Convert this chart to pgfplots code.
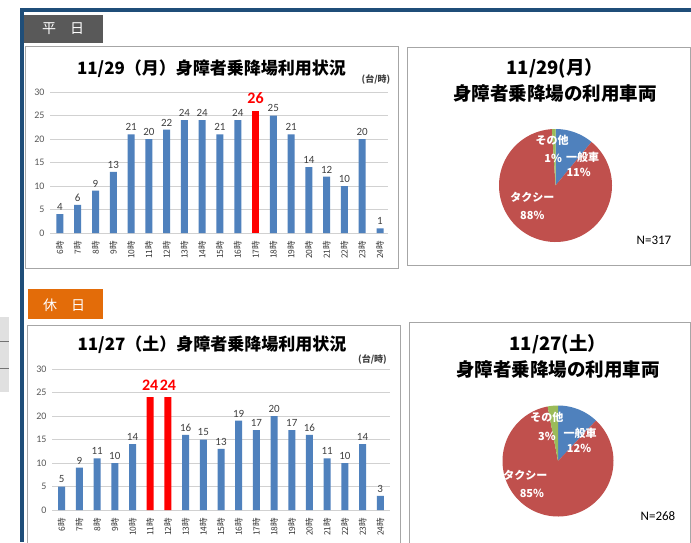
\documentclass[border=0pt]{standalone}
\usepackage{pgfplots}
\pgfplotsset{compat=1.18}
\usepackage{pgfplotstable}
\usepackage{fontspec}
\setmainfont{Carlito}
\newfontfamily\jp{Noto Sans CJK JP}
\definecolor{barblue}{HTML}{4F81BD}
\definecolor{piered}{HTML}{C0504D}
\definecolor{piegreen}{HTML}{9BBB59}
\definecolor{frameblue}{HTML}{1F4E79}
\definecolor{tabgray}{HTML}{595959}
\definecolor{taborange}{HTML}{E36C09}
\definecolor{boxgray}{HTML}{A6A6A6}
\definecolor{txtgray}{HTML}{404040}

% weekday 11/29
\pgfplotstableread{
x y
0 4
1 6
2 9
3 13
4 21
5 20
6 22
7 24
8 24
9 21
10 24
12 25
13 21
14 14
15 12
16 10
17 20
18 1
}\wdblue
\pgfplotstableread{
x y
11 26
}\wdred
% holiday 11/27
\pgfplotstableread{
x y
0 5
1 9
2 11
3 10
4 14
7 16
8 15
9 13
10 19
11 17
12 20
13 17
14 16
15 11
16 10
17 14
18 3
}\heblue
\pgfplotstableread{
x y
5 24
6 24
}\hered

\pgfplotsset{
  hourbars/.style={
    anchor=south west, scale only axis, width=338pt, height=141pt,
    ymin=0, ymax=30, ytick={0,5,...,30},
    xmin=-0.56, xmax=18.45, xtick={0,...,18},
    xticklabels={6時,7時,8時,9時,10時,11時,12時,13時,14時,15時,16時,17時,18時,19時,20時,21時,22時,23時,24時},
    axis line style={draw=none}, tick style={draw=none},
    ymajorgrids, grid style={draw=black!18, line width=0.8pt},
    ybar, bar width=7pt, bar shift=0pt,
    /pgf/number format/assume math mode=true,
    yticklabel style={font=\fontsize{10}{10}\selectfont, text=black!65, xshift=-2pt},
    xticklabel style={rotate=90, anchor=east, font=\jp\fontsize{8.5}{8.5}\selectfont, text=black!78},
    nodes near coords,
    nodes near coords style={font=\fontsize{11}{11}\selectfont, text=txtgray},
    clip=false,
  },
  redbar/.style={fill=red, draw=none,
    every node near coord/.append style={font=\bfseries\fontsize{16}{16}\selectfont, text=red, inner sep=1pt, yshift=6pt}},
  pieaxis/.style={anchor=center, xmin=-1, xmax=1, ymin=-1, ymax=1, hide axis, clip=false},
}
\tikzset{pielabel/.style={font=\jp\bfseries\fontsize{11}{11}\selectfont, text=white, inner sep=0pt}}

\begin{document}
\begin{tikzpicture}
\path[use as bounding box] (0pt,0pt) rectangle (691pt,-542pt);
\fill[white] (0pt,0pt) rectangle (691pt,-542pt);

% left side gray element
\fill[black!12] (0pt,-317pt) rectangle (9pt,-392pt);
\draw[black!55, line width=1pt] (0pt,-341pt) -- (9pt,-341pt);
\draw[black!55, line width=1pt] (0pt,-368pt) -- (9pt,-368pt);

% blue frame
\fill[frameblue] (20pt,-8pt) rectangle (691pt,-12pt);
\fill[frameblue] (20pt,-8pt) rectangle (24pt,-542pt);

% tabs
\fill[tabgray] (24pt,-15pt) rectangle (103pt,-43pt);
\node[text=white, font=\jp\fontsize{14}{14}\selectfont] at (63pt,-29pt) {平\hspace{1em}日};
\fill[taborange] (28pt,-289pt) rectangle (103pt,-319pt);
\node[text=white, font=\jp\fontsize{14}{14}\selectfont] at (64pt,-305pt) {休\hspace{1em}日};

% boxes
\draw[boxgray, line width=1pt] (25pt,-46pt) rectangle (398pt,-268pt);
\draw[boxgray, line width=1pt] (407pt,-47pt) rectangle (690pt,-265pt);
\draw[boxgray, line width=1pt] (27pt,-325pt) rectangle (400pt,-546pt);
\draw[boxgray, line width=1pt] (409pt,-322pt) rectangle (690pt,-546pt);

% ===== weekday bar chart =====
\node[font=\jp\bfseries\fontsize{17}{17}\selectfont] at (211.5pt,-69pt) {11/29（月）身障者乗降場利用状況};
\node[font=\jp\bfseries\fontsize{9}{9}\selectfont, text=txtgray] at (376pt,-80pt) {(台/時)};
\begin{axis}[hourbars, at={(50pt,-233pt)}]
\addplot[fill=barblue, draw=none] table[x=x, y=y] {\wdblue};
\addplot[redbar] table[x=x, y=y] {\wdred};
\end{axis}

% ===== holiday bar chart =====
\node[font=\jp\bfseries\fontsize{17}{17}\selectfont] at (212pt,-345pt) {11/27（土）身障者乗降場利用状況};
\node[font=\jp\bfseries\fontsize{9}{9}\selectfont, text=txtgray] at (372.5pt,-360pt) {(台/時)};
\begin{axis}[hourbars, at={(52pt,-510pt)}, xmin=-0.55, xmax=18.55]
\addplot[fill=barblue, draw=none] table[x=x, y=y] {\heblue};
\addplot[redbar] table[x=x, y=y] {\hered};
\end{axis}

% ===== weekday pie: 一般車 11%, タクシー 88%, その他 1% (clockwise from top) =====
\node[align=center, font=\jp\bfseries\fontsize{18.5}{26}\selectfont] at (555pt,-80pt) {11/29(月）\\身障者乗降場の利用車両};
\begin{axis}[pieaxis, at={(555.5pt,-185.5pt)}, x=56.5pt, y=56.5pt]
\addplot[fill=barblue, draw=none, domain=50.4:90, samples=30] ({cos(x)},{sin(x)}) -- (axis cs:0,0) -- cycle;
\addplot[fill=piered, draw=none, domain=-266.4:50.4, samples=120] ({cos(x)},{sin(x)}) -- (axis cs:0,0) -- cycle;
\addplot[fill=piegreen, draw=none, domain=-270:-266.4, samples=5] ({cos(x)},{sin(x)}) -- (axis cs:0,0) -- cycle;
\node[pielabel] at (axis cs:-0.06,0.80) {その他};
\node[pielabel] at (axis cs:-0.04,0.48) {1\%};
\node[pielabel] at (axis cs:0.48,0.50) {一般車};
\node[pielabel] at (axis cs:0.41,0.23) {11\%};
\node[pielabel] at (axis cs:-0.41,-0.21) {タクシー};
\node[pielabel] at (axis cs:-0.41,-0.53) {88\%};
\end{axis}
\node[font=\fontsize{13}{13}\selectfont] at (654pt,-240pt) {N=317};

% ===== holiday pie: 一般車 12%, タクシー 85%, その他 3% =====
\node[align=center, font=\jp\bfseries\fontsize{18.5}{26}\selectfont] at (558pt,-356.5pt) {11/27(土）\\身障者乗降場の利用車両};
\begin{axis}[pieaxis, at={(558pt,-461pt)}, x=55.5pt, y=55.5pt]
\addplot[fill=barblue, draw=none, domain=46.8:90, samples=30] ({cos(x)},{sin(x)}) -- (axis cs:0,0) -- cycle;
\addplot[fill=piered, draw=none, domain=-259.2:46.8, samples=120] ({cos(x)},{sin(x)}) -- (axis cs:0,0) -- cycle;
\addplot[fill=piegreen, draw=none, domain=-270:-259.2, samples=8] ({cos(x)},{sin(x)}) -- (axis cs:0,0) -- cycle;
\node[pielabel] at (axis cs:-0.20,0.79) {その他};
\node[pielabel] at (axis cs:-0.20,0.45) {3\%};
\node[pielabel] at (axis cs:0.40,0.50) {一般車};
\node[pielabel] at (axis cs:0.38,0.23) {12\%};
\node[pielabel] at (axis cs:-0.59,-0.25) {タクシー};
\node[pielabel] at (axis cs:-0.47,-0.58) {85\%};
\end{axis}
\node[font=\fontsize{13}{13}\selectfont] at (658pt,-516pt) {N=268};
\end{tikzpicture}
\end{document}
